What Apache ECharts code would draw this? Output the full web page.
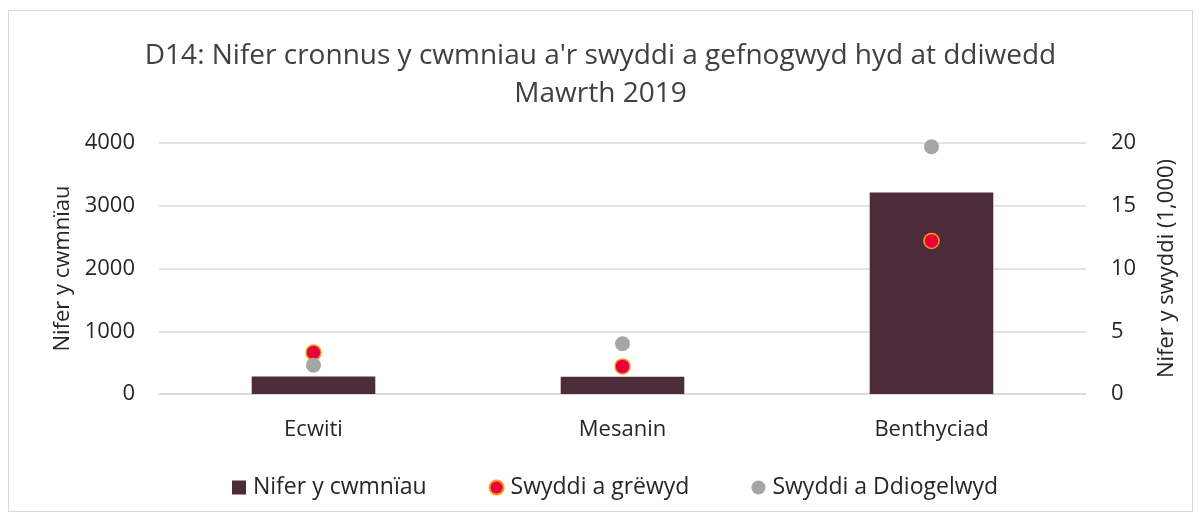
<!DOCTYPE html>
<html>
<head>
<meta charset="utf-8">
<script src="https://cdn.jsdelivr.net/npm/echarts@6/dist/echarts.min.js"></script>
<style>
  html, body { margin: 0; padding: 0; background: #fff; }
  #chart { position: absolute; left: 8px; top: 10px; width: 1185px; height: 502px; border: 1px solid #d9d9d9; box-sizing: border-box; }
</style>
</head>
<body>
<div id="chart"></div>
<script>
var categories = ['Ecwiti', 'Mesanin', 'Benthyciad'];
var companies = [280, 275, 3210];       // Nifer y cwmnïau (left axis)
var jobsCreated = [3.3, 2.2, 12.2];     // Swyddi a grëwyd (1,000, right axis)
var jobsSafeguarded = [2.3, 4.0, 19.7]; // Swyddi a Ddiogelwyd (1,000, right axis)

var font = '"Open Sans", "Noto Sans", sans-serif';
var chart = echarts.init(document.getElementById('chart'));

chart.setOption({
  animation: false,
  textStyle: { fontFamily: font },
  title: {
    text: "D14: Nifer cronnus y cwmniau a'r swyddi a gefnogwyd hyd at ddiwedd\nMawrth 2019",
    left: 'center',
    top: 21,
    textStyle: { fontSize: 28, fontWeight: 'normal', color: '#404040', lineHeight: 38, fontFamily: font }
  },
  legend: {
    left: 218,
    bottom: 7,
    itemGap: 62,
    itemWidth: 14,
    itemHeight: 14,
    textStyle: { fontSize: 23, color: '#262626', fontFamily: font, padding: [0, 0, 0, 2] },
    data: [
      { name: 'Nifer y cwmnïau', icon: 'rect' },
      { name: 'Swyddi a grëwyd', icon: 'circle' },
      { name: 'Swyddi a Ddiogelwyd', icon: 'circle' }
    ]
  },
  grid: { left: 150, right: 106, top: 132, bottom: 117 },
  xAxis: {
    type: 'category',
    data: categories,
    axisLine: { lineStyle: { color: '#d9d9d9', width: 1.5 } },
    axisTick: { show: false },
    axisLabel: { fontSize: 22, color: '#262626', margin: 25 }
  },
  yAxis: [
    {
      type: 'value',
      min: 0, max: 4000, interval: 1000,
      name: 'Nifer y cwmnïau',
      nameLocation: 'middle',
      nameGap: 85,
      nameTextStyle: { fontSize: 22, color: '#262626' },
      axisLabel: { fontSize: 22, color: '#262626', margin: 24, formatter: function (v) { return String(v); } },
      axisLine: { show: false },
      axisTick: { show: false },
      splitLine: { lineStyle: { color: '#d9d9d9', width: 1.5 } }
    },
    {
      type: 'value',
      min: 0, max: 20, interval: 5,
      name: 'Nifer y swyddi (1,000)',
      nameLocation: 'middle',
      nameGap: 70,
      nameRotate: 90,
      nameTextStyle: { fontSize: 22, color: '#262626' },
      axisLabel: { fontSize: 22, color: '#262626', margin: 25 },
      axisLine: { show: false },
      axisTick: { show: false },
      splitLine: { show: false }
    }
  ],
  series: [
    {
      name: 'Nifer y cwmnïau',
      type: 'bar',
      data: companies,
      barWidth: '40%',
      itemStyle: { color: '#4b2c38' }
    },
    {
      name: 'Swyddi a grëwyd',
      type: 'scatter',
      yAxisIndex: 1,
      data: jobsCreated,
      symbolSize: 15,
      itemStyle: { color: '#e8003d', borderColor: '#f39a1f', borderWidth: 1.5, opacity: 1 }
    },
    {
      name: 'Swyddi a Ddiogelwyd',
      type: 'scatter',
      yAxisIndex: 1,
      data: jobsSafeguarded,
      symbolSize: 15,
      itemStyle: { color: '#a5a5a5', opacity: 1 }
    }
  ]
});
</script>
</body>
</html>
